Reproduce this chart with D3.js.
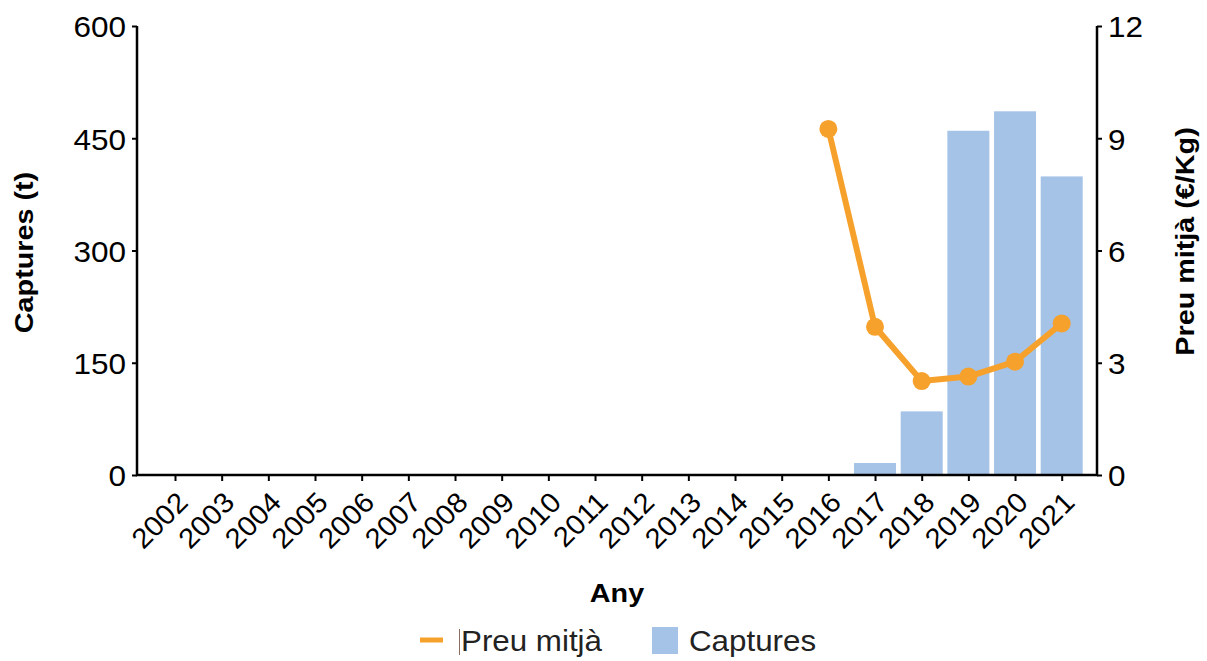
<!DOCTYPE html>
<html>
<head>
<meta charset="utf-8">
<script src="https://cdn.jsdelivr.net/npm/d3@7"></script>
<style>
  body { margin: 0; background: #fff; }
  svg { display: block; font-family: "Liberation Sans", Arial, sans-serif; }
</style>
</head>
<body>
<svg id="chart" width="1207" height="661"></svg>
<script>
const years = ["2002","2003","2004","2005","2006","2007","2008","2009","2010","2011","2012","2013","2014","2015","2016","2017","2018","2019","2020","2021"];
const capturesYears = ["2017","2018","2019","2020","2021"];
const capturesValues = [16, 85, 460, 486, 399];
const priceYears = ["2016","2017","2018","2019","2020","2021"];
const priceValues = [9.25, 3.96, 2.51, 2.63, 3.03, 4.05];
const leftTicks = [0, 150, 300, 450, 600];
const rightTicks = [0, 3, 6, 9, 12];
const seriesNames = ["Preu mitjà", "Captures"];
const titles = { x: "Any", yLeft: "Captures (t)", yRight: "Preu mitjà (€/Kg)" };

const barColor = "#A4C3E6";
const lineColor = "#F7A12D";

const svg = d3.select("#chart");
const plot = { left: 137, right: 1097, top: 26, bottom: 475 };

const x = d3.scalePoint().domain(years).range([175, 1061.7]);
const step = x.step();
const yL = d3.scaleLinear().domain([0, 600]).range([plot.bottom, plot.top]);
const yR = d3.scaleLinear().domain([0, 12]).range([plot.bottom, plot.top]);

// bars
const barData = capturesYears.map((y, i) => ({ year: y, v: capturesValues[i] }));
svg.append("g").selectAll("rect").data(barData).join("rect")
  .attr("x", d => x(d.year) - step * 0.45)
  .attr("width", step * 0.9)
  .attr("y", d => yL(d.v))
  .attr("height", d => yL(0) - yL(d.v))
  .attr("fill", barColor);

// line + points
const priceData = priceYears.map((y, i) => ({ year: y, v: priceValues[i] }));
svg.append("path").datum(priceData)
  .attr("fill", "none")
  .attr("stroke", lineColor)
  .attr("stroke-width", 6)
  .attr("stroke-linejoin", "round")
  .attr("d", d3.line().x(d => x(d.year)).y(d => yR(d.v)));
svg.append("g").selectAll("circle").data(priceData).join("circle")
  .attr("cx", d => x(d.year)).attr("cy", d => yR(d.v)).attr("r", 9)
  .attr("fill", lineColor);

// axes
function styleAxis(g) {
  g.select(".domain").remove();
  g.selectAll(".tick line").attr("stroke", "#000").attr("stroke-width", 2);
  g.selectAll(".tick text").attr("fill", "#000").attr("font-size", 30).attr("data-s", 1.05);
}
const gL = svg.append("g").attr("transform", `translate(${plot.left},0)`)
  .call(d3.axisLeft(yL).tickValues(leftTicks).tickSize(5).tickPadding(6));
styleAxis(gL);
gL.selectAll(".tick text").attr("dy", "0.36em");

const gR = svg.append("g").attr("transform", `translate(${plot.right},0)`)
  .call(d3.axisRight(yR).tickValues(rightTicks).tickSize(5).tickPadding(6));
styleAxis(gR);
gR.selectAll(".tick text").attr("dy", "0.36em");

const gX = svg.append("g").attr("transform", `translate(0,${plot.bottom})`)
  .call(d3.axisBottom(x).tickSize(6));
styleAxis(gX);
gX.selectAll(".tick text")
  .attr("font-size", 28)
  .attr("text-anchor", "end")
  .attr("x", 0).attr("y", 0).attr("dy", 0)
  .attr("transform", "translate(14,29) rotate(-45)");

// axis lines
svg.append("path")
  .attr("d", `M${plot.left},${plot.top}V${plot.bottom}H${plot.right}V${plot.top}`)
  .attr("fill", "none").attr("stroke", "#000").attr("stroke-width", 2.5)
  .attr("stroke-linejoin", "miter");

// titles
svg.append("text").attr("data-s", 1.15)
  .attr("x", (plot.left + plot.right) / 2 + 0).attr("y", 602)
  .attr("text-anchor", "middle").attr("font-size", 25).attr("font-weight", "bold")
  .text(titles.x);
svg.append("text").attr("data-s", 1.15)
  .attr("transform", `translate(33,${(plot.top + plot.bottom) / 2 + 2}) rotate(-90)`)
  .attr("text-anchor", "middle").attr("font-size", 25).attr("font-weight", "bold")
  .text(titles.yLeft);
svg.append("text").attr("data-s", 1.15)
  .attr("transform", `translate(1194,${(plot.top + plot.bottom) / 2 - 9}) rotate(-90)`)
  .attr("text-anchor", "middle").attr("font-size", 25).attr("font-weight", "bold")
  .text(titles.yRight);

// legend
const lg = svg.append("g");
lg.append("line").attr("x1", 420).attr("x2", 443).attr("y1", 640).attr("y2", 640)
  .attr("stroke", lineColor).attr("stroke-width", 5);
lg.append("line").attr("x1", 459.5).attr("x2", 459.5).attr("y1", 629).attr("y2", 655)
  .attr("stroke", "#8a6f60").attr("stroke-width", 1);
lg.append("text").attr("data-s", 1.08).attr("x", 461).attr("y", 651).attr("font-size", 29).attr("fill", "#222")
  .text(seriesNames[0]);
lg.append("rect").attr("x", 652).attr("y", 627).attr("width", 26).attr("height", 27)
  .attr("fill", barColor);
lg.append("text").attr("data-s", 1.08).attr("x", 689).attr("y", 651).attr("font-size", 29).attr("fill", "#222")
  .text(seriesNames[1]);

// slight horizontal stretch of glyphs to match the reference's wide text
svg.selectAll("text").each(function() {
  const s = +(this.getAttribute("data-s") || 1);
  const w = this.getComputedTextLength();
  d3.select(this).attr("textLength", w * s).attr("lengthAdjust", "spacingAndGlyphs");
});
</script>
</body>
</html>
